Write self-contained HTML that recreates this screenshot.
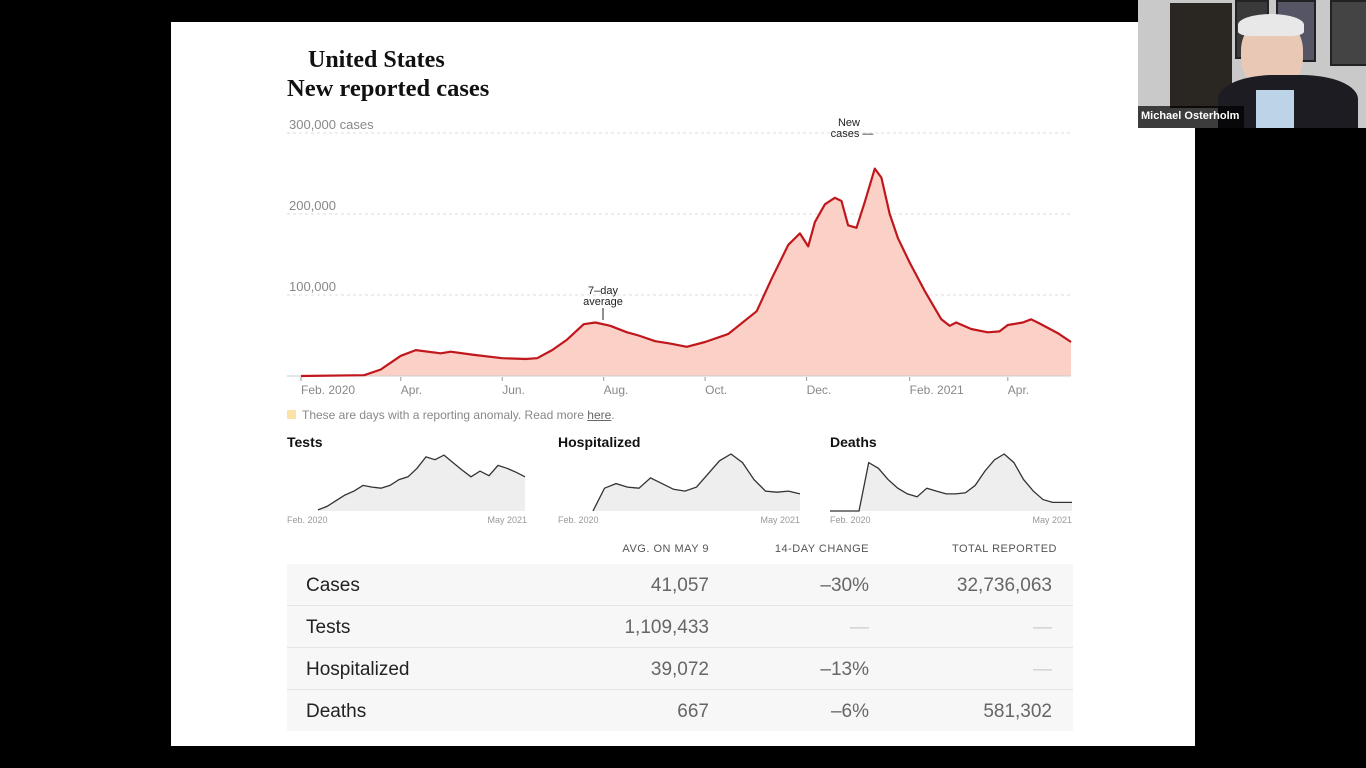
<!DOCTYPE html>
<html><head><meta charset="utf-8"><style>
body{margin:0;width:1366px;height:768px;background:#000;position:relative;overflow:hidden;font-family:"Liberation Sans",sans-serif}
.a{position:absolute}
#slide{left:171px;top:22px;width:1024px;height:724px;background:#fff}
.serif{font-family:"Liberation Serif",serif;font-weight:bold;color:#111}
.row{left:287px;width:786px;height:41px;background:#f7f7f7;border-bottom:1px solid #e4e4e4}
.lbl{left:19px;top:11px;font-size:19px;color:#222}
.v{font-size:19px;color:#666;top:11px;text-align:right}
.hd{font-size:11px;color:#555;letter-spacing:.5px;top:543px;text-align:right}
</style></head><body>
<div class="a" id="slide"></div>
<div class="a serif" style="left:308px;top:47px;font-size:24px">United States</div>
<div class="a serif" style="left:287px;top:75px;font-size:24.5px">New reported cases</div>

<svg class="a" id="main" style="left:0;top:0" width="1366" height="768"></svg>

<div class="a" style="left:287px;top:408px;font-size:12px;color:#888"><span style="display:inline-block;width:9px;height:9px;background:#fbe3a8;margin-right:6px"></span>These are days with a reporting anomaly. Read more <span style="text-decoration:underline;color:#666">here</span>.</div>

<div class="a" style="left:287px;top:434px;font-size:14px;font-weight:bold;color:#111">Tests</div>
<div class="a" style="left:558px;top:434px;font-size:14px;font-weight:bold;color:#111">Hospitalized</div>
<div class="a" style="left:830px;top:434px;font-size:14px;font-weight:bold;color:#111">Deaths</div>

<div class="a hd" style="left:560px;width:149px">AVG. ON MAY 9</div>
<div class="a hd" style="left:720px;width:149px">14-DAY CHANGE</div>
<div class="a hd" style="left:880px;width:177px">TOTAL REPORTED</div>

<div class="a row" style="top:564px"><div class="a lbl">Cases</div><div class="a v" style="left:250px;width:172px">41,057</div><div class="a v" style="left:420px;width:162px">–30%</div><div class="a v" style="left:600px;width:165px">32,736,063</div></div>
<div class="a row" style="top:606px"><div class="a lbl">Tests</div><div class="a v" style="left:250px;width:172px">1,109,433</div><div class="a v" style="left:420px;width:162px;color:#ccc">—</div><div class="a v" style="left:600px;width:165px;color:#ccc">—</div></div>
<div class="a row" style="top:648px"><div class="a lbl">Hospitalized</div><div class="a v" style="left:250px;width:172px">39,072</div><div class="a v" style="left:420px;width:162px">–13%</div><div class="a v" style="left:600px;width:165px;color:#ccc">—</div></div>
<div class="a row" style="top:690px;border-bottom:none"><div class="a lbl">Deaths</div><div class="a v" style="left:250px;width:172px">667</div><div class="a v" style="left:420px;width:162px">–6%</div><div class="a v" style="left:600px;width:165px">581,302</div></div>

<div class="a" style="left:1138px;top:0;width:228px;height:128px;background:#c9c9c9;overflow:hidden">
 <div class="a" style="left:32px;top:3px;width:62px;height:105px;background:#2a2622"></div>
 <div class="a" style="left:97px;top:0;width:30px;height:55px;background:#3a3a3a;border:2px solid #222"></div>
 <div class="a" style="left:138px;top:0;width:36px;height:58px;background:#556;border:2px solid #222"></div>
 <div class="a" style="left:192px;top:0;width:36px;height:62px;background:#444;border:2px solid #222"></div>
 <div class="a" style="left:103px;top:18px;width:62px;height:72px;background:#e9c8b6;border-radius:45%"></div>
 <div class="a" style="left:100px;top:14px;width:66px;height:22px;background:#e8e8e8;border-radius:50% 50% 20% 20%"></div>
 <div class="a" style="left:80px;top:75px;width:140px;height:60px;background:#1c1c22;border-radius:40% 40% 0 0"></div>
 <div class="a" style="left:118px;top:90px;width:38px;height:40px;background:#bcd3e8"></div>
 <div class="a" style="left:0;top:106px;width:106px;height:22px;background:rgba(0,0,0,.7)"></div>
 <div class="a" style="left:3px;top:110px;font-size:11px;font-weight:bold;color:#fff">Michael Osterholm</div>
</div>

<script>
const caseDates=["2020-02-01","2020-03-10","2020-03-20","2020-04-01","2020-04-10","2020-04-25","2020-05-01","2020-05-15","2020-06-01","2020-06-15","2020-06-22","2020-07-01","2020-07-10","2020-07-20","2020-07-27","2020-08-05","2020-08-15","2020-08-22","2020-09-01","2020-09-10","2020-09-20","2020-10-01","2020-10-15","2020-11-01","2020-11-10","2020-11-20","2020-11-27","2020-12-02","2020-12-06","2020-12-12","2020-12-18","2020-12-22","2020-12-26","2020-12-31","2021-01-05","2021-01-11","2021-01-15","2021-01-20","2021-01-25","2021-02-01","2021-02-10","2021-02-20","2021-02-25","2021-03-01","2021-03-10","2021-03-20","2021-03-27","2021-04-01","2021-04-10","2021-04-15","2021-04-20","2021-05-01","2021-05-09"];
const caseAvg=[0,1,8,25,32,28,30,26,22,21,22,32,45,64,66,62,54,50,43,40,36,42,52,80,120,162,176,160,190,212,220,216,186,183,215,256,245,200,170,140,105,70,62,66,58,54,55,63,66,70,65,53,42];
const yTicks=[100000,200000,300000];
const yTickLabels=["100,000","200,000","300,000 cases"];
const xTickDates=["2020-02-01","2020-04-01","2020-06-01","2020-08-01","2020-10-01","2020-12-01","2021-02-01","2021-04-01"];
const xTickLabels=["Feb. 2020","Apr.","Jun.","Aug.","Oct.","Dec.","Feb. 2021","Apr."];
const testsVals=[2,8,18,28,35,45,42,40,45,55,60,75,95,90,98,85,72,60,70,62,80,75,68,60];
const hospVals=[0,40,48,42,40,58,48,38,35,42,65,88,100,85,55,35,33,35,30];
const deathVals=[0,0,0,0,85,75,55,40,30,25,40,35,30,30,32,45,70,90,100,85,55,35,20,15,15,15];

const NS="http://www.w3.org/2000/svg";
const svg=document.getElementById('main');
const t0=Date.parse("2020-02-01"),t1=Date.parse("2021-05-09");
const X=d=>301+(Date.parse(d)-t0)/(t1-t0)*770;
const Y=v=>376-v*0.00081;
function mk(tag,attrs){const e=document.createElementNS(NS,tag);for(const k in attrs)e.setAttribute(k,attrs[k]);svg.appendChild(e);return e;}
yTicks.forEach((v,i)=>{
 const l=mk('line',{x1:287,x2:1071,y1:Y(v),y2:Y(v),stroke:'#ddd','stroke-dasharray':'3,3'});
 
 
 const t=mk('text',{x:289,y:Y(v)-4,'font-size':13,fill:'#888','font-family':'Liberation Sans'});t.textContent=yTickLabels[i];
 
 
});
xTickDates.forEach((d,i)=>{
 const x=X(d);
 mk('line',{x1:x,x2:x,y1:377,y2:381,stroke:'#999'});
 const t=mk('text',{x:x,y:394,'font-size':12,fill:'#888','font-family':'Liberation Sans'});t.textContent=xTickLabels[i];
 
 
});
let pts=caseDates.map((d,i)=>X(d).toFixed(1)+','+Y(caseAvg[i]*1000).toFixed(1));
const area=mk('polygon',{points:X(caseDates[0])+',376 '+pts.join(' ')+' '+X(caseDates[caseDates.length-1])+',376',fill:'#fbd0c6'});


mk('line',{x1:287,x2:1071,y1:376,y2:376,stroke:'#ccc'});
const line=mk('polyline',{points:pts.join(' '),fill:'none',stroke:'#c0171d','stroke-width':2.2,'stroke-linejoin':'round'});


const a1=mk('text',{x:603,y:294,'font-size':11,'text-anchor':'middle',fill:'#222','font-family':'Liberation Sans'});a1.textContent='7–day';


const a2=mk('text',{x:603,y:305,'font-size':11,'text-anchor':'middle',fill:'#222','font-family':'Liberation Sans'});a2.textContent='average';
mk('line',{x1:603,x2:603,y1:308,y2:320,stroke:'#222'});
const a3=mk('text',{x:849,y:126,'font-size':11,'text-anchor':'middle',fill:'#222','font-family':'Liberation Sans'});a3.textContent='New';


const a4=mk('text',{x:852,y:137,'font-size':11,'text-anchor':'middle',fill:'#222','font-family':'Liberation Sans'});a4.textContent='cases —';

function spark(vals,x0,x1,name){
 const top=454,base=511;
 const p=vals.map((v,i)=>(x0+i/(vals.length-1)*(x1-x0)).toFixed(1)+','+(base-v/100*(base-top)).toFixed(1));
 const ar=mk('polygon',{points:x0+','+base+' '+p.join(' ')+' '+x1+','+base,fill:'#eeeeee'});
 
 
 const ln=mk('polyline',{points:p.join(' '),fill:'none',stroke:'#333','stroke-width':1.3});
 
 
}
spark(testsVals,318,525,'tests');
spark(hospVals,593,800,'hospitalized');
spark(deathVals,830,1072,'deaths');
[[287,527],[558,800],[830,1072]].forEach(([a,b])=>{
 const t1e=mk('text',{x:a,y:523,'font-size':9,fill:'#999','font-family':'Liberation Sans'});t1e.textContent='Feb. 2020';
 const t2e=mk('text',{x:b,y:523,'font-size':9,fill:'#999','text-anchor':'end','font-family':'Liberation Sans'});t2e.textContent='May 2021';
});
</script>
</body></html>
